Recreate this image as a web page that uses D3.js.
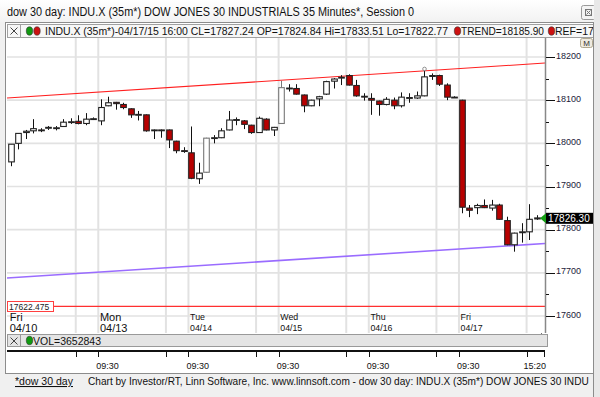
<!DOCTYPE html>
<html><head><meta charset="utf-8">
<script src="https://cdn.jsdelivr.net/npm/d3@7"></script>
<style>body{margin:0;background:#f0f0f0}svg{display:block;font-family:"Liberation Sans",Arial,sans-serif}</style>
</head><body><svg id="c" width="600" height="397"></svg>
<script>
// ---- data ----
const opens  = [17957,18000,18025,18029,18031,18035,18036,18039,18049,18051,18046,18056,
                18052,18087,18095,18090,18080,18066,18066,18030,18031,18031,18005,17983,
                17978,17918,17933,18012,18013,18031,18054,18052,18042,18025,18056,18031,
                18046,18128,18127,18112,18087,18103,18114,18144,18152,18157,18134,18109,
                18104,18098,18090,18100,18087,18106,18105,18110,18155,18157,18135,18107,
                18100,17850,17851,17856,17850,17857,17821,17765,17793,17795,17824.84];
const highs  = [17998,18023,18031,18056,18035,18040,18040,18056,18058,18065,18070,18060,
                18102,18108,18096,18094,18081,18075,18067,18032,18032,18032,18006,17991,
                18039,17955,18013,18019,18035,18075,18060,18054,18043,18062,18058,18038,
                18145,18137,18137,18113,18101,18110,18145,18151,18158,18160,18147,18116,
                18116,18099,18107,18106,18118,18116,18120,18170,18162,18159,18139,18109,
                18101,17857,17860,17870,17869,17860,17830,17793,17815,17859,17833.51];
const lows   = [17947,17986,18010,18023,18026,18031,18030,18038,18045,18044,18042,18054,
                18042,18086,18078,18079,18059,18053,18027,18010,18013,17989,17977,17978,
                17917,17906,17932,18000,18012,18030,18042,18033,18022,18024,18030,18017,
                18045,18120,18113,18072,18086,18086,18112,18127,18135,18134,18108,18099,
                18066,18064,18088,18079,18083,18094,18103,18109,18147,18133,18100,18105,
                17838,17829,17836,17850,17844,17823,17764,17749,17770,17776,17822.77];
const closes = [17998,18023,18028,18034,18030,18037,18036,18049,18050,18046,18056,18057,
                18083,18094,18092,18083,18066,18067,18029,18031,18030,18008,17983,17982,
                17919,17931,18012,18013,18029,18054,18055,18044,18025,18058,18031,18037,
                18129,18127,18114,18087,18100,18108,18143,18149,18153,18135,18110,18108,
                18100,18090,18102,18087,18107,18106,18110,18154,18157,18137,18107,18106,
                17852,17845,17856,17851,17857,17824,17765,17792,17795,17824,17827.24];
const dayNames   = ["Fri","Mon","Tue","Wed","Thu","Fri"];
const dayDates   = ["04/10","04/13","04/14","04/15","04/16","04/17"];
const barsPerDay = 12;
const priceTicks = [17600,17700,17800,17900,18000,18100,18200];
const timeLabels = ["09:30","09:30","09:30","09:30","09:30","15:20"];
const trendLine  = [18105, 18186];   // red trend, left -> right
const refLine    = [17688, 17768];   // purple ref, left -> right
const hLevel     = 17622.475;
const lastPrice  = 17826.30;
const volume     = 3652843;
const titleText  = "dow 30 day: INDU.X (35m*) DOW JONES 30 INDUSTRIALS 35 Minutes*, Session 0";
const legendText = "INDU.X (35m*)-04/17/15 16:00 CL=17827.24 OP=17824.84 Hi=17833.51 Lo=17822.77";
const trendText  = "TREND=18185.90";
const refText    = "REF=17";
const footerLink = "*dow 30 day";
const footerText = "Chart by Investor/RT, Linn Software, Inc. www.linnsoft.com - dow 30 day: INDU.X (35m*) DOW JONES 30 INDU";

// ---- layout ----
const svg = d3.select("#c");
const L = 7, R = 545, T = 38, B = 333;
const n = closes.length;
const x = d3.scaleLinear().domain([-0.5, 71.1]).range([L, R]);
const y = d3.scaleLinear().domain([17600, 18200]).range([316, 57]);

const defs = svg.append("defs");
defs.append("clipPath").attr("id","plotclip").append("rect").attr("x",L).attr("y",T).attr("width",R-L).attr("height",B-T);
const g1 = defs.append("linearGradient").attr("id","tb").attr("x1",0).attr("x2",0).attr("y1",0).attr("y2",1);
g1.append("stop").attr("offset",0).attr("stop-color","#ffffff");
g1.append("stop").attr("offset",1).attr("stop-color","#f2f2f2");

// window background
svg.append("rect").attr("width",600).attr("height",397).attr("fill","#f0f0f0");
svg.append("rect").attr("x",0).attr("y",0).attr("width",600).attr("height",22).attr("fill","url(#tb)");
svg.append("text").attr("x",7).attr("y",16).attr("font-size",12).attr("fill","#111")
  .attr("textLength",407).attr("lengthAdjust","spacingAndGlyphs").text(titleText);
// close button
svg.append("rect").attr("x",581.5).attr("y",5.5).attr("width",14).attr("height",14).attr("rx",2)
  .attr("fill","#f4f4f4").attr("stroke","#9a9a9a");
svg.append("rect").attr("x",585.5).attr("y",9.5).attr("width",6).attr("height",6).attr("fill","none").attr("stroke","#777");
svg.append("path").attr("d","M586.5,10.5 L590.5,14.5 M590.5,10.5 L586.5,14.5").attr("stroke","#777");

// chart frame
svg.append("rect").attr("x",5.5).attr("y",22.5).attr("width",588).attr("height",351).attr("fill","#ffffff").attr("stroke","#8c8c8c");

// legend row
const leg = svg.append("g");
leg.append("rect").attr("x",7.5).attr("y",24.5).attr("width",600).attr("height",13).attr("fill","#f7f7f7").attr("stroke","#a0a0a0");
leg.append("path").attr("d","M20.5,24.5 V37.5").attr("stroke","#a0a0a0");
leg.append("path").attr("d","M10.5,27.5 L17.5,34.5 M17.5,27.5 L10.5,34.5").attr("stroke","#444");
function dot(sel, cx, cy, col){
  sel.append("ellipse").attr("cx",cx).attr("cy",cy).attr("rx",3.2).attr("ry",4.2).attr("fill",col).attr("stroke","#333").attr("stroke-width",0.6);
}
dot(leg, 29.5, 31, "#119911");
dot(leg, 37, 31, "#cc1111");
leg.append("text").attr("x",45).attr("y",35).attr("font-size",10.5).attr("fill","#111")
  .attr("textLength",403).attr("lengthAdjust","spacingAndGlyphs").text(legendText);
dot(leg, 457.5, 31, "#cc1111");
leg.append("text").attr("x",461).attr("y",35).attr("font-size",10.5).attr("fill","#111")
  .attr("textLength",83).attr("lengthAdjust","spacingAndGlyphs").text(trendText);
dot(leg, 551.5, 31, "#cc1111");
leg.append("text").attr("x",555).attr("y",35).attr("font-size",10.5).attr("fill","#111").text(refText);

// plot background
svg.append("rect").attr("x",L).attr("y",T).attr("width",R-L).attr("height",B-T).attr("fill","#fff");

// gridlines
const gridIdx = [];
for (let k = 1; k <= 6; k++) { gridIdx.push(k*barsPerDay - 3); if (k < 6) gridIdx.push(k*barsPerDay); }
const plot = svg.append("g").attr("clip-path","url(#plotclip)");
plot.selectAll("line.vg").data(gridIdx).join("line").attr("class","vg")
  .attr("x1",d=>x(d-0.35)).attr("x2",d=>x(d-0.35)).attr("y1",T).attr("y2",B)
  .attr("stroke","#e2e2e2").attr("stroke-width",2);
plot.selectAll("line.hg").data(priceTicks).join("line").attr("class","hg")
  .attr("x1",L).attr("x2",R).attr("y1",d=>y(d)).attr("y2",d=>y(d))
  .attr("stroke","#e2e2e2").attr("stroke-width",1.6);

// trend lines
plot.append("line").attr("x1",x(-0.5)).attr("x2",x(71.1)).attr("y1",y(trendLine[0])).attr("y2",y(trendLine[1]))
  .attr("stroke","#ff2020").attr("stroke-width",1.1);
plot.append("line").attr("x1",x(-0.5)).attr("x2",x(71.1)).attr("y1",y(refLine[0])).attr("y2",y(refLine[1]))
  .attr("stroke","#9a6cff").attr("stroke-width",1.6);
plot.append("line").attr("x1",L).attr("x2",R).attr("y1",y(hLevel)).attr("y2",y(hLevel))
  .attr("stroke","#ff3030").attr("stroke-width",1.2);

// candles
const idx = d3.range(n);
const bw = 5.6;
const bigUp = i => Math.abs(y(opens[i])-y(closes[i]))>25 && closes[i]>opens[i];
plot.selectAll("line.wick").data(idx).join("line").attr("class","wick")
  .attr("x1",i=>Math.round(x(i))+0.5).attr("x2",i=>Math.round(x(i))+0.5)
  .attr("y1",i=>y(highs[i])).attr("y2",i=>y(lows[i]))
  .attr("stroke",i=> bigUp(i) ? "#777" : "#111").attr("stroke-width",1);
plot.selectAll("rect.body").data(idx).join("rect").attr("class","body")
  .attr("x",i=>Math.round(x(i))+0.5-bw/2).attr("width",bw)
  .attr("y",i=>Math.min(y(opens[i]),y(closes[i])))
  .attr("height",i=>Math.max(0.8,Math.abs(y(opens[i])-y(closes[i]))))
  .attr("fill",i=>closes[i]<opens[i] ? "#b80000" : "#ffffff")
  .attr("stroke",i=> bigUp(i) ? "#777" : "#222")
  .attr("stroke-width",1.1);
// marker on high of bar 55
plot.append("circle").attr("cx",Math.round(x(55))+0.5).attr("cy",y(highs[55])-1).attr("r",1.8)
  .attr("fill","#fff").attr("stroke","#777").attr("stroke-width",0.8);

// level label
svg.append("rect").attr("x",7.5).attr("y",301.5).attr("width",46).attr("height",10).attr("fill","#fff").attr("stroke","#ff4040");
svg.append("text").attr("x",9).attr("y",309.5).attr("font-size",8.5).attr("fill","#222").text(hLevel.toFixed(3));

// date labels
dayNames.forEach((d,k)=>{
  const xx = x(k*barsPerDay) - 1;
  const fs = k < 2 ? 11 : 8.8;
  svg.append("text").attr("x",xx).attr("y",k<2?321:320).attr("font-size",fs).attr("fill","#111").text(d);
  svg.append("text").attr("x",xx).attr("y",k<2?332:331).attr("font-size",fs).attr("fill","#111").text(dayDates[k]);
});
svg.append("path").attr("d","M538.5,338 L541.5,333 L544.5,338 Z").attr("fill","#111");

// right axis
svg.append("line").attr("x1",R+0.5).attr("x2",R+0.5).attr("y1",T).attr("y2",B).attr("stroke","#888").attr("stroke-width",1.5);
const minor = d3.range(17650, 18200, 100);
svg.selectAll("line.mt").data(minor).join("line").attr("class","mt")
  .attr("x1",R+1).attr("x2",R+4).attr("y1",d=>Math.round(y(d))+0.5).attr("y2",d=>Math.round(y(d))+0.5).attr("stroke","#111");
svg.selectAll("line.Mt").data(priceTicks).join("line").attr("class","Mt")
  .attr("x1",R+1).attr("x2",R+10).attr("y1",d=>Math.round(y(d))+0.5).attr("y2",d=>Math.round(y(d))+0.5).attr("stroke","#111");
svg.selectAll("text.pl").data(priceTicks).join("text").attr("class","pl")
  .attr("x",R+11).attr("y",d=>y(d)+1.5).attr("font-size",9).attr("fill","#1a1a3a").text(d=>d);
// M button
svg.append("rect").attr("x",580.5).attr("y",38.5).attr("width",12).attr("height",9).attr("rx",2).attr("fill","#eeeae0").attr("stroke","#b0a890");
svg.append("text").attr("x",586.5).attr("y",46).attr("font-size",8).attr("text-anchor","middle").attr("fill","#333").text("M");

// last price tag
const ly = y(lastPrice);
svg.append("path").attr("d",`M${R-5},${ly} L${R+1},${ly-5} L${R+1},${ly+5} Z`).attr("fill","#14a014");
svg.append("rect").attr("x",R+1).attr("y",ly-5.5).attr("width",47).attr("height",11).attr("fill","#000");
svg.append("text").attr("x",R+3).attr("y",ly+4).attr("font-size",10).attr("fill","#fff").text(lastPrice.toFixed(2));

// volume header
svg.append("rect").attr("x",7.5).attr("y",334.5).attr("width",540).attr("height",12).attr("fill","#e4e4e4").attr("stroke","#999");
svg.append("path").attr("d","M20.5,334.5 V346.5").attr("stroke","#999");
svg.append("path").attr("d","M10.5,337.5 L17.5,344.5 M17.5,337.5 L10.5,344.5").attr("stroke","#444");
dot(svg, 29.5, 340.5, "#119911");
svg.append("text").attr("x",33).attr("y",344.5).attr("font-size",10.5).attr("fill","#111").text("VOL=" + volume);

// time axis
svg.append("line").attr("x1",L).attr("x2",R).attr("y1",351).attr("y2",351).attr("stroke","#111").attr("stroke-width",2);
svg.selectAll("line.tt").data(gridIdx).join("line").attr("class","tt")
  .attr("x1",d=>Math.round(x(d-0.35))+0.5).attr("x2",d=>Math.round(x(d-0.35))+0.5).attr("y1",351).attr("y2",357).attr("stroke","#111");
svg.append("line").attr("x1",R-0.5).attr("x2",R-0.5).attr("y1",351).attr("y2",357).attr("stroke","#111");
const labIdx = [12,24,36,48,60];
labIdx.forEach((d,k)=>{
  svg.append("text").attr("x",x(d-0.35)-2).attr("y",369).attr("font-size",9).attr("fill","#111").text(timeLabels[k]);
});
svg.append("text").attr("x",R+1).attr("y",369).attr("font-size",9).attr("text-anchor","end").attr("fill","#111").text(timeLabels[5]);

// footer
svg.append("rect").attr("x",0).attr("y",374).attr("width",600).attr("height",23).attr("fill","#f0f0f0");
svg.append("line").attr("x1",5).attr("x2",594).attr("y1",373.5).attr("y2",373.5).attr("stroke","#8c8c8c");
svg.append("text").attr("x",15).attr("y",385).attr("font-size",10.5).attr("fill","#111").attr("text-decoration","underline")
  .attr("textLength",58).attr("lengthAdjust","spacingAndGlyphs").text(footerLink);
svg.append("rect").attr("x",594).attr("y",0).attr("width",6).attr("height",397).attr("fill","#e8e8e8");
svg.append("line").attr("x1",593.5).attr("x2",593.5).attr("y1",22).attr("y2",397).attr("stroke","#8c8c8c");
svg.append("text").attr("x",88).attr("y",385).attr("font-size",10.1).attr("fill","#111").text(footerText);
</script></body></html>
